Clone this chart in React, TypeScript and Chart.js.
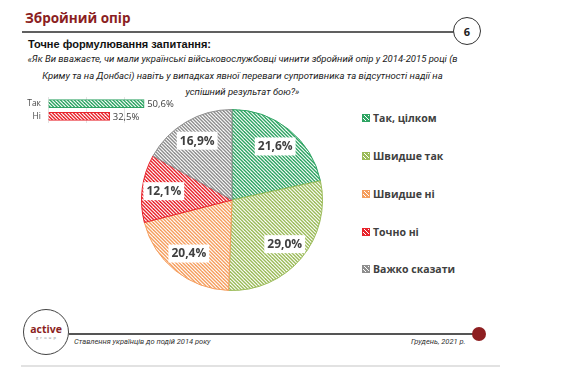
import React, { useEffect, useRef } from "react";
import { Chart, registerables } from "chart.js";

Chart.register(...registerables);

const pieLabels = ["Так, цілком", "Швидше так", "Швидше ні", "Точно ні", "Важко сказати"];
const pieValues = [21.6, 29.0, 20.4, 12.1, 16.9];
const pieColors = ["#2EA463", "#9BBB59", "#F59E5E", "#E8232B", "#8E8E8E"];

const barLabels = ["Так", "Ні"];
const barValues = [50.6, 32.5];
const barColors = ["#2EA463", "#E8232B"];
const barTicks = [0, 20, 40];

const titleText = "Збройний опір";
const pageNumber = "6";
const subtitleText = "Точне формулювання запитання:";
const questionLines = [
  "«Як Ви вважаєте, чи мали українські військовослужбовці чинити збройний опір у 2014-2015 році (в",
  "Криму та на Донбасі) навіть у випадках явної переваги супротивника та відсутності надії на",
  "успішний результат бою?»",
];
const footerLeft = "Ставлення українців до подій 2014 року";
const footerRight = "Грудень, 2021 р.";

const fmt = (v: number) => v.toFixed(1).replace(".", ",") + "%";

function hatch(color: string): CanvasPattern | string {
  const c = document.createElement("canvas");
  c.width = 7;
  c.height = 7;
  const g = c.getContext("2d");
  if (!g) return color;
  g.fillStyle = "#ffffff";
  g.fillRect(0, 0, 7, 7);
  g.strokeStyle = color;
  g.lineWidth = 1.4;
  for (const o of [-7, -3.5, 0, 3.5, 7]) {
    g.beginPath();
    g.moveTo(o - 1, -1);
    g.lineTo(o + 8, 8);
    g.stroke();
  }
  return g.createPattern(c, "repeat") || color;
}

const pieLabelPlugin = {
  id: "pieLabelPlugin",
  afterDatasetsDraw(chart: any) {
    const ctx = chart.ctx;
    const meta = chart.getDatasetMeta(0);
    ctx.save();
    ctx.font = "bold 12px 'Open Sans'";
    ctx.textAlign = "center";
    ctx.textBaseline = "middle";
    meta.data.forEach((arc: any, i: number) => {
      const p = arc.getProps(["x", "y", "startAngle", "endAngle", "outerRadius"], true);
      const mid = (p.startAngle + p.endAngle) / 2;
      const r = p.outerRadius * 0.76;
      const lx = p.x + Math.cos(mid) * r;
      const ly = p.y + Math.sin(mid) * r;
      const text = fmt(pieValues[i]);
      const w = ctx.measureText(text).width;
      ctx.fillStyle = "#ffffff";
      ctx.fillRect(lx - w / 2 - 3, ly - 9, w + 6, 18);
      ctx.fillStyle = "#404040";
      ctx.fillText(text, lx, ly + 0.5);
    });
    ctx.restore();
  },
};

const barValuePlugin = {
  id: "barValuePlugin",
  afterDatasetsDraw(chart: any) {
    const ctx = chart.ctx;
    const meta = chart.getDatasetMeta(0);
    ctx.save();
    ctx.font = "9.5px 'Open Sans'";
    ctx.textAlign = "left";
    ctx.textBaseline = "middle";
    ctx.fillStyle = "#404040";
    meta.data.forEach((bar: any, i: number) => {
      const p = bar.getProps(["x", "y"], true);
      ctx.fillText(fmt(barValues[i]), p.x + 3, p.y + 0.5);
    });
    ctx.restore();
  },
};

function BarChart() {
  const ref = useRef<HTMLCanvasElement | null>(null);
  useEffect(() => {
    if (!ref.current) return;
    const chart = new Chart(ref.current, {
      type: "bar",
      data: {
        labels: barLabels,
        datasets: [
          {
            data: barValues,
            backgroundColor: barColors.map(hatch) as any,
            borderColor: barColors,
            borderWidth: 1,
            barThickness: 8,
          },
        ],
      },
      options: {
        indexAxis: "y",
        responsive: false,
        animation: false,
        layout: { padding: { top: 3, bottom: 3, left: 0, right: 38 } },
        plugins: { legend: { display: false }, tooltip: { enabled: false } },
        scales: {
          x: {
            min: 0,
            max: 60,
            ticks: { display: false, stepSize: 20 },
            grid: {
              drawTicks: false,
              color: (c: any) => (c.tick && barTicks.includes(c.tick.value) ? "#e2e2e2" : "rgba(0,0,0,0)"),
            },
            border: { display: false },
          },
          y: {
            ticks: { color: "#4a4a4a", font: { size: 8.5, family: "'Open Sans'" }, padding: 7 },
            grid: { display: false, drawTicks: false },
            border: { display: false },
            afterFit: (s: any) => {
              s.width = 48;
            },
          },
        },
      } as any,
      plugins: [barValuePlugin],
    });
    return () => chart.destroy();
  }, []);
  return (
    <canvas
      ref={ref}
      width={200}
      height={50}
      style={{ position: "absolute", left: 0, top: 85, width: 200, height: 50 }}
    />
  );
}

function PieChart() {
  const ref = useRef<HTMLCanvasElement | null>(null);
  useEffect(() => {
    if (!ref.current) return;
    const chart = new Chart(ref.current, {
      type: "pie",
      data: {
        labels: pieLabels,
        datasets: [
          {
            data: pieValues,
            backgroundColor: pieColors.map(hatch) as any,
            borderColor: pieColors,
            borderWidth: 1,
            hoverOffset: 0,
            offset: 0,
          },
        ],
      },
      options: {
        responsive: false,
        animation: false,
        layout: { padding: 9 },
        plugins: { legend: { display: false }, tooltip: { enabled: false } },
      } as any,
      plugins: [pieLabelPlugin],
    });
    return () => chart.destroy();
  }, []);
  return (
    <canvas
      ref={ref}
      width={200}
      height={200}
      style={{ position: "absolute", left: 132, top: 100, width: 200, height: 200 }}
    />
  );
}

export default function App() {
  const legendTop = [118, 156, 194, 232, 269];
  return (
    <div
      style={{
        position: "absolute",
        left: 0,
        top: 0,
        width: 568,
        height: 385,
        background: "#ffffff",
        overflow: "hidden",
        fontFamily: "'Open Sans', sans-serif",
      }}
    >
      <div
        style={{
          position: "absolute",
          left: 25,
          top: 9,
          fontSize: 13.5,
          fontWeight: 700,
          color: "#8B1E22",
          whiteSpace: "nowrap",
          lineHeight: "18px",
        }}
      >
        {titleText}
      </div>
      <div style={{ position: "absolute", left: 22, top: 31, width: 432, height: 2, background: "#606060" }} />
      <div
        style={{
          position: "absolute",
          left: 453,
          top: 17,
          width: 26,
          height: 26,
          border: "1.5px solid #333",
          borderRadius: "50%",
          background: "#fff",
          display: "flex",
          alignItems: "center",
          justifyContent: "center",
          fontSize: 11,
          fontWeight: 700,
          color: "#222",
        }}
      >
        {pageNumber}
      </div>
      <div
        style={{
          position: "absolute",
          left: 28,
          top: 37,
          fontFamily: "'Liberation Sans', Arial, sans-serif",
          fontSize: 11,
          fontWeight: 700,
          color: "#111",
          whiteSpace: "nowrap",
          lineHeight: "14px",
        }}
      >
        {subtitleText}
      </div>
      {questionLines.map((t, i) => (
        <div
          key={i}
          style={{
            position: "absolute",
            left: 20,
            width: 445,
            top: 52 + i * 16.5,
            textAlign: "center",
            fontFamily: "Roboto, sans-serif",
            fontStyle: "italic",
            fontSize: 9.5,
            color: "#222",
            whiteSpace: "nowrap",
            lineHeight: "14px",
          }}
        >
          {t}
        </div>
      ))}

      <BarChart />
      <PieChart />

      {pieLabels.map((l, i) => (
        <div
          key={l}
          style={{
            position: "absolute",
            left: 362,
            top: legendTop[i] - 8,
            height: 16,
            display: "flex",
            alignItems: "center",
            whiteSpace: "nowrap",
          }}
        >
          <div
            style={{
              width: 6,
              height: 6,
              border: `1px solid ${pieColors[i]}`,
              background: `repeating-linear-gradient(45deg, ${pieColors[i]} 0px, ${pieColors[i]} 1.6px, #ffffff 1.6px, #ffffff 2.8px)`,
              marginRight: 3,
            }}
          />
          <span style={{ fontSize: 10.5, fontWeight: 700, color: "#404040" }}>{l}</span>
        </div>
      ))}

      <div
        style={{
          position: "absolute",
          left: 23,
          top: 309,
          width: 44,
          height: 44,
          border: "1.5px solid #444",
          borderRadius: "50%",
          background: "#fff",
          display: "flex",
          flexDirection: "column",
          alignItems: "center",
          justifyContent: "center",
        }}
      >
        <div style={{ fontSize: 10.5, fontWeight: 700, color: "#8B1E22", lineHeight: "11px" }}>active</div>
        <div style={{ fontSize: 4, color: "#777", letterSpacing: 2.2, lineHeight: "6px", marginLeft: 2 }}>group</div>
      </div>
      <div style={{ position: "absolute", left: 69, top: 333, width: 406, height: 1.5, background: "#555" }} />
      <div
        style={{
          position: "absolute",
          left: 472,
          top: 327,
          width: 14,
          height: 14,
          borderRadius: "50%",
          background: "#8E1F21",
        }}
      />
      <div
        style={{
          position: "absolute",
          left: 74,
          top: 337,
          fontFamily: "Roboto, sans-serif",
          fontStyle: "italic",
          fontSize: 7.5,
          color: "#333",
          whiteSpace: "nowrap",
          lineHeight: "10px",
        }}
      >
        {footerLeft}
      </div>
      <div
        style={{
          position: "absolute",
          left: 411,
          top: 337,
          fontFamily: "Roboto, sans-serif",
          fontStyle: "italic",
          fontSize: 7.5,
          color: "#333",
          whiteSpace: "nowrap",
          lineHeight: "10px",
        }}
      >
        {footerRight}
      </div>
      <div style={{ position: "absolute", left: 21, top: 365, width: 479, height: 2, background: "#e2e2e2" }} />
    </div>
  );
}
